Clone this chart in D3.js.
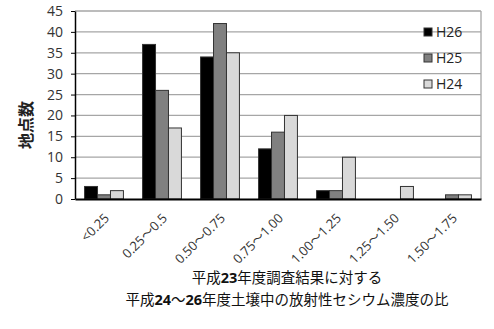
<!DOCTYPE html>
<html>
<head>
<meta charset="utf-8">
<script src="https://cdn.jsdelivr.net/npm/d3@7"></script>
<style>
body { margin: 0; background: #fff; }
text { font-family: "Open Sans", "Noto Sans CJK JP", sans-serif; }
</style>
</head>
<body>
<script>
var w = 494;
var h = 329;

var categories = ["<0.25", "0.25\u301c0.5", "0.50\u301c0.75", "0.75\u301c1.00", "1.00\u301c1.25", "1.25\u301c1.50", "1.50\u301c1.75"];
var seriesNames = ["H26", "H25", "H24"];
var h26 = [3, 37, 34, 12, 2, 0, 0];
var h25 = [1, 26, 42, 16, 2, 0, 1];
var h24 = [2, 17, 35, 20, 10, 3, 1];
var yTicks = [0, 5, 10, 15, 20, 25, 30, 35, 40, 45];
var colors = ["#000000", "#808080", "#d9d9d9"];

var margin = {left: 75, right: 13, top: 11, bottom: 130};
var svg = d3.select("body").append("svg")
    .attr("width", w)
    .attr("height", h);

var x = d3.scaleBand()
    .domain(categories)
    .range([margin.left, w - margin.right])
    .paddingInner(0.33)
    .paddingOuter(0.165);

var xs = d3.scaleBand()
    .domain(seriesNames)
    .range([0, x.bandwidth()]);

var y = d3.scaleLinear()
    .domain([0, 45])
    .range([h - margin.bottom, margin.top]);

// grid lines
svg.selectAll("line.grid")
   .data(yTicks.slice(1))
   .enter()
   .append("line")
   .attr("x1", margin.left)
   .attr("x2", w - margin.right)
   .attr("y1", function(d) { return y(d); })
   .attr("y2", function(d) { return y(d); })
   .attr("stroke", "#a6a6a6")
   .attr("stroke-width", 1.3);

// right border
svg.append("line")
   .attr("x1", w - margin.right).attr("x2", w - margin.right)
   .attr("y1", y(45)).attr("y2", y(0))
   .attr("stroke", "#a6a6a6")
   .attr("stroke-width", 1.3);

var data = [h26, h25, h24];
var groups = svg.selectAll("g.series")
   .data(data)
   .enter()
   .append("g")
   .attr("fill", function(d, i) { return colors[i]; });

groups.selectAll("rect")
   .data(function(d, i) {
       return d.map(function(v, j) { return {s: seriesNames[i], c: categories[j], v: v}; });
   })
   .enter()
   .append("rect")
   .filter(function(d) { return d.v > 0; })
   .attr("x", function(d) { return x(d.c) + xs(d.s); })
   .attr("y", function(d) { return y(d.v); })
   .attr("width", xs.bandwidth())
   .attr("height", function(d) { return y(0) - y(d.v); })
   .attr("stroke", "#333")
   .attr("stroke-width", 1);

// y axis
var yAxis = svg.append("g")
   .attr("transform", "translate(" + margin.left + ",0)")
   .call(d3.axisLeft(y).tickValues(yTicks).tickSize(4).tickSizeOuter(0));
yAxis.select(".domain").attr("stroke", "#000").attr("stroke-width", 1.5);
yAxis.selectAll(".tick line").attr("stroke", "#000");
yAxis.selectAll("text")
   .attr("font-size", "14px")
   .attr("fill", "#333")
   .attr("x", -12);

// x axis
var xAxis = svg.append("g")
   .attr("transform", "translate(0," + y(0) + ")")
   .call(d3.axisBottom(x).tickSize(0).tickSizeOuter(0));
xAxis.select(".domain").attr("stroke", "#000").attr("stroke-width", 2);
xAxis.selectAll("text")
   .attr("font-size", "13px")
   .attr("fill", "#333")
   .attr("text-anchor", "end")
   .attr("dy", 0)
   .attr("y", 0)
   .attr("transform", "translate(6,20) rotate(-45)");

// y axis title
svg.append("text")
   .attr("transform", "translate(32,125) rotate(-90)")
   .attr("text-anchor", "middle")
   .attr("font-size", "16px")
   .attr("font-weight", "bold")
   .attr("fill", "#222")
   .text("地点数");

// x axis title
var xt = svg.append("text")
   .attr("text-anchor", "middle")
   .attr("font-size", "14.5px")
   .attr("fill", "#111");
xt.append("tspan").attr("x", 287).attr("y", 283).text("平成");
xt.append("tspan").attr("font-weight", "bold").text("23");
xt.append("tspan").text("年度調査結果に対する");
xt.append("tspan").attr("x", 287).attr("y", 305).text("平成");
xt.append("tspan").attr("font-weight", "bold").text("24");
xt.append("tspan").text("\u301c");
xt.append("tspan").attr("font-weight", "bold").text("26");
xt.append("tspan").text("年度土壌中の放射性セシウム濃度の比");

// legend
var legend = svg.selectAll("g.legend")
   .data(seriesNames)
   .enter()
   .append("g")
   .attr("transform", function(d, i) { return "translate(424," + (28 + i * 26) + ")"; });
legend.append("rect")
   .attr("width", 8).attr("height", 8)
   .attr("fill", function(d, i) { return colors[i]; })
   .attr("stroke", "#333");
legend.append("text")
   .attr("x", 12).attr("y", 9)
   .attr("font-size", "14px")
   .attr("fill", "#222")
   .text(function(d) { return d; });
</script>
</body>
</html>
